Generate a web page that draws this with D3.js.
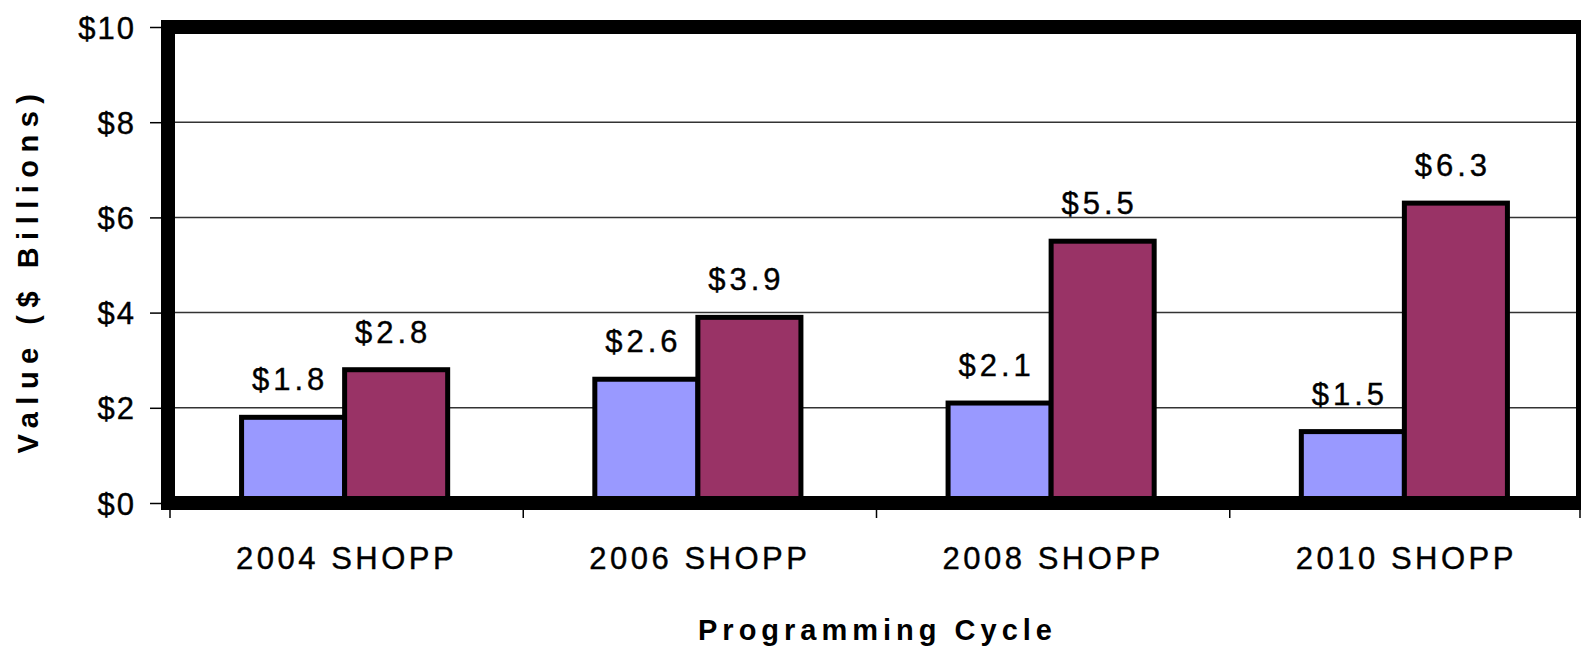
<!DOCTYPE html>
<html>
<head>
<meta charset="utf-8">
<script src="https://cdn.jsdelivr.net/npm/d3@7"></script>
<style>
  body { margin: 0; background: #fff; }
  svg { display: block; }
  text { font-family: "Liberation Sans", Arial, sans-serif; fill: #000; }
</style>
</head>
<body>
<div id="chart"></div>
<script>
// chart values
const cycles = ['2004 SHOPP', '2006 SHOPP', '2008 SHOPP', '2010 SHOPP'];
const seriesNames = ['first', 'second'];
const firstValues = [1.8, 2.6, 2.1, 1.5];
const secondValues = [2.8, 3.9, 5.5, 6.3];
const yTicks = [0, 2, 4, 6, 8, 10];
const seriesColors = ['#9999ff', '#993366'];

const width = 1581;
const height = 650;
const margin = { top: 27, right: 0, bottom: 147, left: 168 };

const svg = d3.select('#chart').append('svg')
  .attr('width', width)
  .attr('height', height);

const x0 = d3.scaleBand().domain(cycles).range([margin.left, width]).padding(0);
const x1 = d3.scaleBand().domain(seriesNames).range([0, x0.bandwidth()])
  .paddingInner(0).paddingOuter(0.714);
const y = d3.scaleLinear().domain([0, 10]).range([height - margin.bottom, margin.top]);

// gridlines
svg.append('g')
  .selectAll('line')
  .data(yTicks.filter(d => d > 0 && d < 10))
  .join('line')
  .attr('x1', margin.left)
  .attr('x2', width)
  .attr('y1', d => y(d))
  .attr('y2', d => y(d))
  .attr('stroke', '#333')
  .attr('stroke-width', 1.5);

// y axis ticks + labels
const yAxis = svg.append('g')
  .attr('transform', `translate(${margin.left},0)`)
  .call(d3.axisLeft(y).tickValues(yTicks).tickSize(18).tickPadding(14).tickFormat(d => '$' + d));
yAxis.select('.domain').remove();
yAxis.selectAll('.tick line').attr('stroke', '#000').attr('stroke-width', 1.5);
yAxis.selectAll('.tick text')
  .style('font-size', '31px')
  .style('letter-spacing', '2px')
  .style('stroke', '#000')
  .style('stroke-width', 0.4)
  .attr('dy', '0.36em');

// x axis ticks below frame
svg.append('g')
  .selectAll('line')
  .data(cycles.concat(['end']))
  .join('line')
  .attr('x1', (d, i) => i < cycles.length ? x0(d) + 2 : width - 1)
  .attr('x2', (d, i) => i < cycles.length ? x0(d) + 2 : width - 1)
  .attr('y1', y(0))
  .attr('y2', y(0) + 15)
  .attr('stroke', '#000')
  .attr('stroke-width', 1.5);

// bars
const rows = cycles.map((c, i) => ({ cycle: c, vals: [firstValues[i], secondValues[i]] }));
const groups = svg.append('g')
  .selectAll('g')
  .data(rows)
  .join('g')
  .attr('transform', d => `translate(${x0(d.cycle)},0)`);

groups.selectAll('rect')
  .data(d => d.vals.map((v, j) => ({ key: seriesNames[j], v, j })))
  .join('rect')
  .attr('x', d => x1(d.key))
  .attr('width', x1.bandwidth())
  .attr('y', d => y(d.v))
  .attr('height', d => y(0) - y(d.v))
  .attr('fill', d => seriesColors[d.j])
  .attr('stroke', '#000')
  .attr('stroke-width', 5);

groups.selectAll('text')
  .data(d => d.vals.map((v, j) => ({ key: seriesNames[j], v, j })))
  .join('text')
  .attr('x', d => x1(d.key) + x1.bandwidth() / 2 - 3)
  .attr('y', d => y(d.v) - 27)
  .attr('text-anchor', 'middle')
  .style('font-size', '31px')
  .style('letter-spacing', '4px')
  .style('stroke', '#000')
  .style('stroke-width', 0.4)
  .text(d => '$' + d.v.toFixed(1));

// plot frame
svg.append('rect')
  .attr('x', margin.left)
  .attr('y', y(10))
  .attr('width', width - margin.left + 2)
  .attr('height', y(0) - y(10))
  .attr('fill', 'none')
  .attr('stroke', '#000')
  .attr('stroke-width', 14);

// category labels
svg.append('g')
  .selectAll('text')
  .data(cycles)
  .join('text')
  .attr('x', d => x0(d) + x0.bandwidth() / 2 + 2)
  .attr('y', 569)
  .attr('text-anchor', 'middle')
  .style('font-size', '31px')
  .style('letter-spacing', '3.5px')
  .style('stroke', '#000')
  .style('stroke-width', 0.4)
  .text(d => d);

// axis titles
svg.append('text')
  .attr('x', (margin.left + width) / 2 + 3)
  .attr('y', 640)
  .attr('text-anchor', 'middle')
  .style('font-size', '29px')
  .style('font-weight', 'bold')
  .style('letter-spacing', '5px')
  .text('Programming Cycle');

svg.append('text')
  .attr('transform', `translate(38,${(y(0) + y(10)) / 2 + 5}) rotate(-90)`)
  .attr('text-anchor', 'middle')
  .style('font-size', '29px')
  .style('font-weight', 'bold')
  .style('letter-spacing', '7.5px')
  .text('Value ($ Billions)');
</script>
</body>
</html>
